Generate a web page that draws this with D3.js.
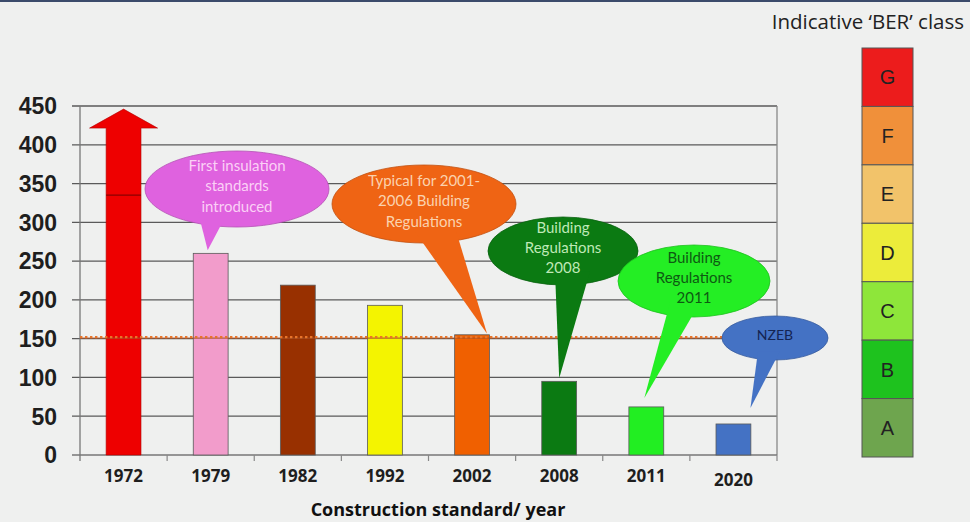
<!DOCTYPE html>
<html>
<head>
<meta charset="utf-8">
<script src="https://cdn.jsdelivr.net/npm/d3@7/dist/d3.min.js"></script>
<style>
  html, body { margin: 0; padding: 0; background: #eff0ef; }
  svg { display: block; }
</style>
</head>
<body>
<svg id="chart" width="970" height="522"></svg>
<script>
// Energy use per construction standard (kWh/m²/yr)
const years = ["1972", "1979", "1982", "1992", "2002", "2008", "2011", "2020"];
const energyUse = [446, 260, 219, 193, 155, 95, 62, 40];
const barColors = ["#ee0000", "#f29ccb", "#983000", "#f4f400", "#f06000", "#0b7a12", "#22ee22", "#4472c4"];
const yTicks = [0, 50, 100, 150, 200, 250, 300, 350, 400, 450];
const referenceLevel = 152;      // dotted reference line
const pre1972Marker = 335;       // line inside the 1972 column

// Indicative BER classes, top to bottom
const berClasses = ["G", "F", "E", "D", "C", "B", "A"];
const berColors = ["#ec1c1c", "#f0903a", "#f2c36a", "#ecec3a", "#8ee63a", "#1ec21e", "#6ea54e"];

// Speech-balloon callouts
const calloutYears = ["1979", "2002", "2008", "2011", "2020"];
const calloutLines = [
  ["First insulation", "standards", "introduced"],
  ["Typical for 2001-", "2006 Building", "Regulations"],
  ["Building", "Regulations", "2008"],
  ["Building", "Regulations", "2011"],
  ["NZEB"]
];

const svg = d3.select("#chart");

// top border strip
svg.append("rect").attr("x", 0).attr("y", 0).attr("width", 970).attr("height", 2).attr("fill", "#3b4b6b");

const x = d3.scaleBand().domain(years).range([80, 777]).paddingInner(0.6).paddingOuter(0.3);
const y = d3.scaleLinear().domain([0, 450]).range([455, 106]);
const step = x.step();
const halfGap = (step - x.bandwidth()) / 2;

// gridlines with left tick stubs
svg.append("g").selectAll("line").data(yTicks.filter(d => d > 0)).join("line")
  .attr("x1", 72).attr("x2", 777)
  .attr("y1", d => y(d)).attr("y2", d => y(d))
  .attr("stroke", "#5a5a5a").attr("stroke-width", 1.3);

// plot frame: left axis, right edge, baseline
svg.append("line").attr("x1", 80).attr("x2", 80).attr("y1", y(450)).attr("y2", y(0) + 6)
  .attr("stroke", "#777").attr("stroke-width", 1.3);
svg.append("line").attr("x1", 777).attr("x2", 777).attr("y1", y(450)).attr("y2", y(0))
  .attr("stroke", "#888").attr("stroke-width", 1.3);
svg.append("line").attr("x1", 72).attr("x2", 777).attr("y1", y(0)).attr("y2", y(0))
  .attr("stroke", "#777").attr("stroke-width", 1.3);

// category tick marks at band boundaries
svg.append("g").selectAll("line").data(years).join("line")
  .attr("x1", d => x(d) + x.bandwidth() + halfGap)
  .attr("x2", d => x(d) + x.bandwidth() + halfGap)
  .attr("y1", y(0)).attr("y2", y(0) + 6)
  .attr("stroke", "#888").attr("stroke-width", 1.2);

// y tick labels
svg.append("g").selectAll("text").data(yTicks).join("text")
  .attr("x", 57).attr("y", d => y(d))
  .attr("dy", "0.36em").attr("text-anchor", "end")
  .attr("font-family", "Liberation Sans, Arial, sans-serif")
  .attr("font-weight", "bold").attr("font-size", 23).attr("fill", "#1e1e1e")
  .text(d => d);

// bars (the 1972 column ends in an arrow head)
const arrowHead = 19;
const bars = years.map((yr, i) => ({ yr, v: energyUse[i], c: barColors[i] }));
svg.append("g").selectAll("rect").data(bars.slice(1)).join("rect")
  .attr("x", d => x(d.yr)).attr("width", x.bandwidth())
  .attr("y", d => y(d.v)).attr("height", d => y(0) - y(d.v))
  .attr("fill", d => d.c).attr("stroke", "#5a5a5a").attr("stroke-width", 0.8);

const a = bars[0];
const ax0 = x(a.yr), ax1 = x(a.yr) + x.bandwidth(), acx = ax0 + x.bandwidth() / 2;
const headY = y(a.v) + arrowHead;
svg.append("path")
  .attr("d", `M${ax0},${y(0)} L${ax0},${headY} L${acx - 34},${headY} L${acx},${y(a.v)} L${acx + 34},${headY} L${ax1},${headY} L${ax1},${y(0)} Z`)
  .attr("fill", a.c).attr("stroke", "#b00000").attr("stroke-width", 0.6);
svg.append("line").attr("x1", ax0).attr("x2", ax1)
  .attr("y1", y(pre1972Marker)).attr("y2", y(pre1972Marker))
  .attr("stroke", "#8a0000").attr("stroke-width", 1.2);

// dotted reference line: thin brown rule with orange dots
svg.append("line").attr("x1", 80).attr("x2", 777)
  .attr("y1", y(referenceLevel) + 1).attr("y2", y(referenceLevel) + 1)
  .attr("stroke", "#a0502a").attr("stroke-width", 1);
svg.append("line").attr("x1", 80).attr("x2", 777)
  .attr("y1", y(referenceLevel)).attr("y2", y(referenceLevel))
  .attr("stroke", "#e8742a").attr("stroke-width", 2.4).attr("stroke-dasharray", "2.4,2.6");

// x labels
svg.append("g").selectAll("text").data(years).join("text")
  .attr("x", d => x(d) + x.bandwidth() / 2)
  .attr("y", (d, i) => i === years.length - 1 ? 486 : 482)
  .attr("text-anchor", "middle")
  .attr("font-family", "Open Sans, sans-serif").attr("font-weight", "bold")
  .attr("font-size", 17).attr("fill", "#1e1e1e")
  .text(d => d);

svg.append("text").attr("x", 438).attr("y", 516).attr("text-anchor", "middle")
  .attr("font-family", "Open Sans, sans-serif").attr("font-weight", "bold")
  .attr("font-size", 18).attr("fill", "#111")
  .text("Construction standard/ year");

// callout balloons: ellipse + tail pointing at the bar top
const calloutStyle = [
  { fill: "#df62df", ink: "#fbd0f6", cx: 237, cy: 189, rx: 92, ry: 38, base: [198, 228], tipDx: -3, tipGap: 3, fs: 15, lh: 20.5 },
  { fill: "#ef6414", ink: "#fbd2ae", cx: 424, cy: 204, rx: 92, ry: 39, base: [412, 455], tipDx: 15, tipGap: 1, fs: 15, lh: 20.5 },
  { fill: "#0b7a12", ink: "#bfe9b6", cx: 563, cy: 251, rx: 75, ry: 34, base: [555, 590], tipDx: 0, tipGap: 3, fs: 15, lh: 20 },
  { fill: "#24ee24", ink: "#0e5a12", cx: 694, cy: 281, rx: 76, ry: 36, base: [670, 700], tipDx: -2, tipGap: 9, fs: 15, lh: 20 },
  { fill: "#4472c4", ink: "#142452", cx: 775, cy: 338, rx: 53, ry: 22, base: [758, 780], tipDx: 17, tipGap: 16, fs: 14, lh: 18 }
];

calloutYears.forEach((yr, i) => {
  const s = calloutStyle[i];
  const v = energyUse[years.indexOf(yr)];
  const tipX = x(yr) + x.bandwidth() / 2 + s.tipDx;
  const tipY = y(v) - s.tipGap;
  const g = svg.append("g");
  const baseY = s.cy + s.ry * 0.6;
  g.append("ellipse").attr("cx", s.cx).attr("cy", s.cy).attr("rx", s.rx).attr("ry", s.ry)
    .attr("fill", s.fill).attr("stroke", d3.color(s.fill).darker(0.6)).attr("stroke-width", 0.8);
  g.append("path")
    .attr("d", `M${s.base[0]},${baseY} L${tipX},${tipY} L${s.base[1]},${baseY} Z`)
    .attr("fill", s.fill);
  const lines = calloutLines[i];
  const startY = s.cy - (lines.length - 1) * s.lh / 2 - 3;
  g.selectAll("text").data(lines).join("text")
    .attr("x", s.cx).attr("y", (d, j) => startY + j * s.lh)
    .attr("dy", "0.35em").attr("text-anchor", "middle")
    .attr("font-family", "Lato, sans-serif").attr("font-size", s.fs).attr("fill", s.ink)
    .text(d => d);
});

// BER class scale
svg.append("text").attr("x", 964).attr("y", 29).attr("text-anchor", "end")
  .attr("font-family", "Open Sans, sans-serif").attr("font-size", 20.5).attr("fill", "#222")
  .text("Indicative \u2018BER\u2019 class");

const ber = d3.scaleBand().domain(berClasses).range([48, 457]);
const berG = svg.append("g").selectAll("g").data(berClasses).join("g");
berG.append("rect").attr("x", 862).attr("width", 51)
  .attr("y", d => ber(d)).attr("height", ber.bandwidth())
  .attr("fill", (d, i) => berColors[i]).attr("stroke", "#555").attr("stroke-width", 1);
berG.append("text").attr("x", 887.5).attr("y", d => ber(d) + ber.bandwidth() / 2)
  .attr("dy", "0.36em").attr("text-anchor", "middle")
  .attr("font-family", "Liberation Sans, Arial, sans-serif").attr("font-size", 20).attr("fill", "#222")
  .text(d => d);
</script>
</body>
</html>
